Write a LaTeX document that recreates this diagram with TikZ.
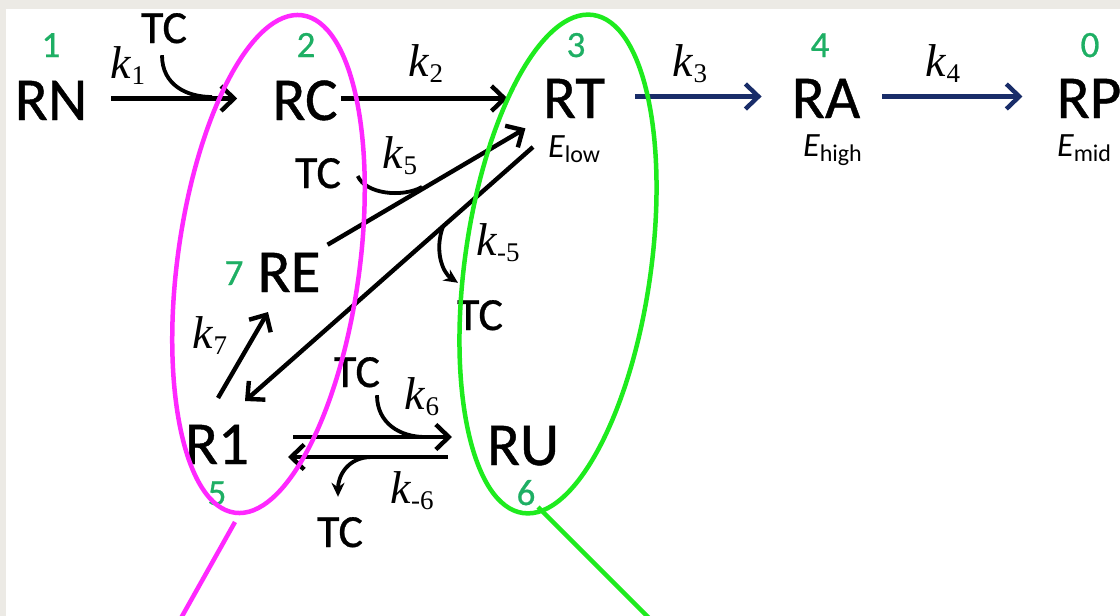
\documentclass[tikz,border=0pt]{standalone}
\usepackage{fontspec}
\setmainfont{Carlito}
\newfontfamily\heavy{Carlito}[FakeBold=0.7]
\newfontfamily\kfont{Liberation Serif}
\usetikzlibrary{arrows.meta}
\definecolor{bgc}{RGB}{236,234,229}
\definecolor{numgreen}{RGB}{30,175,100}
\definecolor{navy}{RGB}{25,45,105}
\definecolor{magring}{RGB}{255,40,255}
\definecolor{limering}{RGB}{30,235,30}
\newcommand{\kl}[1]{{\kfont\itshape\fontsize{46}{46}\selectfont k}\kern0.5pt\raisebox{-6pt}{\kfont\fontsize{27}{27}\selectfont #1}}
\newcommand{\Esub}[1]{{\fontsize{34}{34}\selectfont\itshape E}\raisebox{-5pt}{\fontsize{24}{24}\selectfont #1}}
\begin{document}
\begin{tikzpicture}[x=1pt,y=-1pt,
  big/.style={font=\heavy\fontsize{61}{61}\selectfont, inner sep=0pt, text height=43pt, text depth=0pt, anchor=base},
  num/.style={font=\heavy\fontsize{37}{37}\selectfont, text=numgreen, inner sep=0pt, text height=24pt, text depth=0pt, anchor=base},
  tc/.style={font=\heavy\fontsize{46}{46}\selectfont, inner sep=0pt, text height=30pt, text depth=0pt, anchor=base},
  klab/.style={inner sep=0pt, anchor=center},
  elab/.style={inner sep=0pt, anchor=base west},
  arr/.style={line width=4.4pt, -{Straight Barb[length=13pt,width=25pt]}},
  navyarr/.style={arr, draw=navy},
  hook/.style={line width=3.8pt},
  hookarr/.style={hook, -{Stealth[length=14pt,width=13pt]}},
  ring/.style={line width=4.5pt}]
\useasboundingbox (0,0) rectangle (1120,616);
\fill[bgc] (0,0) rectangle (1120,616);
\fill[white] (6,9) rectangle (1120,616);

% main species
\node[big] (RN) at (51,120) {RN};
\node[big] (RC) at (305,120) {RC};
\node[big] (RT) at (574,118) {RT};
\node[big] (RA) at (826,118) {RA};
\node[big] (RP) at (1089,118) {RP};
\node[big] (RE) at (289,292) {RE};
\node[big] (R1) at (217,464) {R1};
\node[big] (RU) at (523,465) {RU};

% numbers
\node[num] (n1) at (51,57) {1};
\node[num] (n2) at (306,57) {2};
\node[num] (n3) at (576,57) {3};
\node[num] (n4) at (820,57) {4};
\node[num] (n0) at (1090,57) {0};
\node[num] (n7) at (234,285) {7};
\node[num] (n5) at (217,505) {5};
\node[num] (n6) at (526,505) {6};

% energies
\node[elab] (Elow) at (548,157) {\Esub{low}};
\node[elab] (Ehigh) at (803,156) {\Esub{high}};
\node[elab] (Emid) at (1057,156) {\Esub{mid}};

% TC labels
\node[tc] (tcA) at (164,43) {TC};
\node[tc] (tcB) at (318,188) {TC};
\node[tc] (tcC) at (480,330) {TC};
\node[tc] (tcD) at (357,387) {TC};
\node[tc] (tcE) at (340,547) {TC};

% rate labels
\node[klab] (k1) at (128,66) {\kl{1}};
\node[klab] (k2) at (426,64) {\kl{2}};
\node[klab] (k3) at (690,64) {\kl{3}};
\node[klab] (k4) at (943,64) {\kl{4}};
\node[klab] (k5) at (400,156) {\kl{5}};
\node[klab] (km5) at (498,243) {\kl{-5}};
\node[klab] (k7) at (210,336) {\kl{7}};
\node[klab] (k6) at (422,397) {\kl{6}};
\node[klab] (km6) at (412,491) {\kl{-6}};

% horizontal arrows
\draw[arr, shorten <=24pt, shorten >=35pt] (RN.east) -- (RN.east -| RC.west);
\draw[arr, shorten <=3pt, shorten >=35pt] (RC.east) -- (RC.east -| RT.west);
\draw[navyarr, shorten <=30pt, shorten >=30pt] (RT.east) -- (RT.east -| RA.west);
\draw[navyarr, shorten <=22pt, shorten >=34pt] (RA.east) -- (RA.east -| RP.west);

% diagonal arrows
\draw[arr, shorten <=8pt, shorten >=20pt] (RE.north east) -- (RT.south west);
\draw[arr] ([shift={(-41,50.5)}]RT.center) -- ([shift={(28,-41.5)}]R1.center);
\draw[arr] ([shift={(1,-44.5)}]R1.center) -- ([shift={(-21,41.5)}]RE.center);
\draw[arr] ([shift={(76,-5.5)}]R1.center) -- ([shift={(-71,-6.5)}]RU.center);
\draw[arr] ([shift={(-75,13.5)}]RU.center) -- ([shift={(71,14.5)}]R1.center);

% TC hooks
\draw[hook] ([shift={(-2,12)}]tcA.south) .. controls +(0,30) and +(-25,0) .. ([shift={(-93,-1.5)}]RC.center);
\draw[hook] ([shift={(16.5,3)}]tcB.east) .. controls +(8,18) and +(-20,11) .. ([shift={(133,-83.5)}]RE.center);
\draw[hookarr] ([shift={(-131,130)}]RT.center) .. controls +(-9,25) and +(-15,-10) .. ([shift={(-22,-17)}]tcC.north);
\draw[hook] ([shift={(20,8)}]tcD.south) .. controls +(0,28) and +(-25,0) .. ([shift={(-98,-6.5)}]RU.center);
\draw[hookarr] ([shift={(-151,13.5)}]RU.center) .. controls +(-25,0) and +(0,-20) .. ([shift={(-2,-20)}]tcE.north);

% rings
\draw[ring, draw=magring, rotate around={-7.7:(268.5,264)}] (268.5,264) ellipse [x radius=91pt, y radius=251pt];
\draw[ring, draw=limering, rotate around={-8:(558,264)}] (558,264) ellipse [x radius=93pt, y radius=251.5pt];
\coordinate (mA) at (235,522);
\coordinate (mB) at (176,627);
\coordinate (gA) at (538,507);
\coordinate (gB) at (658,627);
\draw[ring, draw=magring] (mA) -- (mB);
\draw[ring, draw=limering] (gA) -- (gB);
\end{tikzpicture}
\end{document}
